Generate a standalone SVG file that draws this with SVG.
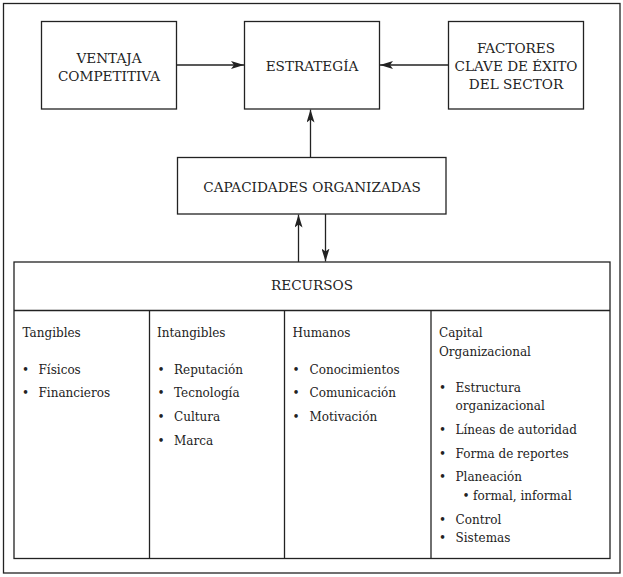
<svg xmlns="http://www.w3.org/2000/svg" width="623" height="577" viewBox="0 0 623 577">
<style>
.box{fill:#fff;stroke:#222;stroke-width:1.3}
.ln{stroke:#222;stroke-width:1.3;fill:none}
text{font-family:"DejaVu Serif",serif;font-size:12px;fill:#222}
.u{font-size:13.6px}
.c{text-anchor:middle}
.b{text-anchor:middle}
</style>
<defs>
<marker id="ah" viewBox="0 0 13 8" refX="13" refY="4" markerWidth="13" markerHeight="8" markerUnits="userSpaceOnUse" orient="auto">
<path d="M0,0 L13,4 L0,8 L3,4 Z" fill="#222"/>
</marker>
</defs>
<rect x="0" y="0" width="623" height="577" fill="#fff"/>
<rect id="frame" x="3.5" y="3.5" width="616.5" height="569.5" class="box"/>
<g id="ventaja">
<rect x="41.5" y="21.5" width="135" height="87.5" class="box"/>
<text x="109" y="63" class="c u">VENTAJA</text>
<text x="109" y="81" class="c u">COMPETITIVA</text>
</g>
<g id="estrategia">
<rect x="244.5" y="21.5" width="135" height="87.5" class="box"/>
<text x="312" y="71" class="c u">ESTRATEGÍA</text>
</g>
<g id="factores">
<rect x="448.5" y="21.5" width="135" height="87.5" class="box"/>
<text x="516" y="53" class="c u">FACTORES</text>
<text x="516" y="71" class="c u">CLAVE DE ÉXITO</text>
<text x="516" y="88.5" class="c u">DEL SECTOR</text>
</g>
<g id="capacidades">
<rect x="177.5" y="157.5" width="268.5" height="56.5" class="box"/>
<text x="312" y="191.5" class="c u">CAPACIDADES ORGANIZADAS</text>
</g>
<g id="recursos">
<rect x="14" y="262" width="596" height="296.5" class="box"/>
<text x="312" y="290" class="c u">RECURSOS</text>
<line x1="14" y1="310.5" x2="610" y2="310.5" class="ln"/>
<line x1="149.5" y1="310.5" x2="149.5" y2="558.5" class="ln"/>
<line x1="284.5" y1="310.5" x2="284.5" y2="558.5" class="ln"/>
<line x1="431" y1="310.5" x2="431" y2="558.5" class="ln"/>
</g>
<g id="tangibles">
<text x="22.5" y="337">Tangibles</text>
<text x="25.5" y="374" class="b">•</text><text x="38.5" y="374">Físicos</text>
<text x="25.5" y="397" class="b">•</text><text x="38.5" y="397">Financieros</text>
</g>
<g id="intangibles">
<text x="157" y="337">Intangibles</text>
<text x="161" y="374" class="b">•</text><text x="174" y="374">Reputación</text>
<text x="161" y="397" class="b">•</text><text x="174" y="397">Tecnología</text>
<text x="161" y="421" class="b">•</text><text x="174" y="421">Cultura</text>
<text x="161" y="445" class="b">•</text><text x="174" y="445">Marca</text>
</g>
<g id="humanos">
<text x="292.5" y="337">Humanos</text>
<text x="296" y="374" class="b">•</text><text x="309.5" y="374">Conocimientos</text>
<text x="296" y="397" class="b">•</text><text x="309.5" y="397">Comunicación</text>
<text x="296" y="421" class="b">•</text><text x="309.5" y="421">Motivación</text>
</g>
<g id="capital">
<text x="439" y="337">Capital</text>
<text x="439" y="356">Organizacional</text>
<text x="442.5" y="392" class="b">•</text><text x="455.5" y="392">Estructura</text>
<text x="455.5" y="410">organizacional</text>
<text x="442.5" y="434" class="b">•</text><text x="455.5" y="434">Líneas de autoridad</text>
<text x="442.5" y="458" class="b">•</text><text x="455.5" y="458">Forma de reportes</text>
<text x="442.5" y="481" class="b">•</text><text x="455.5" y="481">Planeación</text>
<text x="466" y="500" class="b">•</text><text x="473" y="500">formal, informal</text>
<text x="442.5" y="524" class="b">•</text><text x="455.5" y="524">Control</text>
<text x="442.5" y="542" class="b">•</text><text x="455.5" y="542">Sistemas</text>
</g>
<g id="connectors">
<line x1="176.5" y1="65" x2="244" y2="65" class="ln" marker-end="url(#ah)"/>
<line x1="448.5" y1="65" x2="380" y2="65" class="ln" marker-end="url(#ah)"/>
<line x1="310.5" y1="157.5" x2="310.5" y2="109.5" class="ln" marker-end="url(#ah)"/>
<line x1="298.5" y1="262" x2="298.5" y2="214.5" class="ln" marker-end="url(#ah)"/>
<line x1="325.5" y1="214" x2="325.5" y2="261.5" class="ln" marker-end="url(#ah)"/>
</g>
</svg>
